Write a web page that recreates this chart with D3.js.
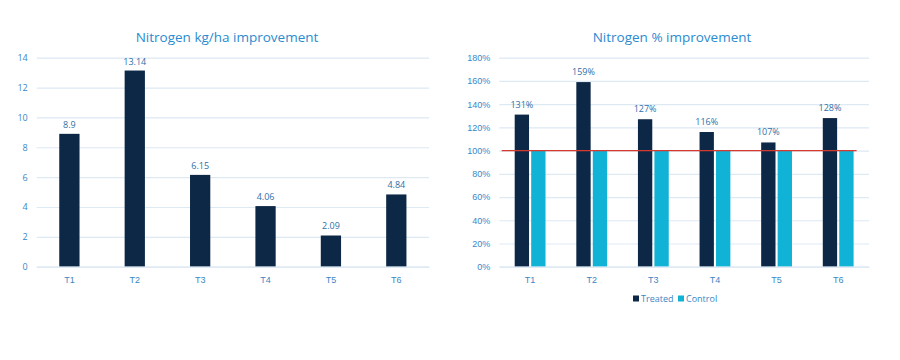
<!DOCTYPE html>
<html><head><meta charset="utf-8">
<script src="https://cdn.jsdelivr.net/npm/d3@7"></script>
<style>
html,body{margin:0;padding:0;background:#fff;}
svg{display:block;font-family:"Open Sans","Noto Sans",sans-serif;}
</style></head>
<body><svg id="c" width="900" height="360"></svg>
<script>
const categories = ["T1","T2","T3","T4","T5","T6"];
const kgImprovement = [8.9, 13.14, 6.15, 4.06, 2.09, 4.84];
const kgLabels = ["8.9","13.14","6.15","4.06","2.09","4.84"];
const kgTicks = [0,2,4,6,8,10,12,14];
const treatedPct = [1.31, 1.59, 1.27, 1.16, 1.07, 1.28];
const controlPct = [1.00, 1.00, 1.00, 1.00, 1.00, 1.00];
const pctTicks = [0,0.2,0.4,0.6,0.8,1.0,1.2,1.4,1.6,1.8];
const seriesNames = ["Treated","Control"];
const baseline = 1.0;

const navy = "#0c2846", cyan = "#10b2d6", textBlue = "#3a86c6", titleBlue = "#2b8bd0", grid = "#dde9f3", red = "#d63a2f";
const svg = d3.select("#c");

// ---- Left chart ----
{
  const x = d3.scaleBand().domain(categories).range([36.7, 429]).paddingInner(0.69).paddingOuter(0.345);
  const y = d3.scaleLinear().domain([0,14]).range([266.7, 57.7]);
  const g = svg.append("g");
  g.append("text").attr("x", 227).attr("y", 42).attr("text-anchor","middle")
    .attr("font-size", 13.5).attr("fill", titleBlue).text("Nitrogen kg/ha improvement");
  const ya = g.append("g").attr("transform","translate(36.7,0)")
    .call(d3.axisLeft(y).tickValues(kgTicks).tickSize(-(429-36.7)).tickPadding(9).tickFormat(d3.format("d")));
  ya.select(".domain").remove();
  ya.selectAll("line").attr("stroke", grid).attr("stroke-width",1.2);
  ya.selectAll("text").attr("fill", textBlue).attr("font-size", 9).attr("font-family","'Open Sans',sans-serif");
  g.selectAll("rect.b").data(categories).join("rect")
    .attr("x", d => x(d)).attr("width", x.bandwidth())
    .attr("y", (d,i) => y(kgImprovement[i])).attr("height", (d,i) => y(0)-y(kgImprovement[i]))
    .attr("fill", navy);
  g.selectAll("text.v").data(categories).join("text")
    .attr("x", d => x(d)+x.bandwidth()/2).attr("y", (d,i) => y(kgImprovement[i]) - 6)
    .attr("text-anchor","middle").attr("font-size", 9).attr("fill", "#2f6fa8").text((d,i)=>kgLabels[i]);
  const xa = g.append("g").attr("transform","translate(0,266.7)").call(d3.axisBottom(x).tickSize(0).tickPadding(10));
  xa.select(".domain").attr("stroke", grid).attr("stroke-width",1.2);
  xa.selectAll("text").attr("fill", textBlue).attr("font-size", 9);
}

// ---- Right chart ----
{
  const x = d3.scaleBand().domain(categories).range([499.3, 869]).paddingInner(0.5).paddingOuter(0.25);
  const xs = d3.scaleBand().domain(seriesNames).range([0, x.bandwidth()]).paddingInner(0.13);
  const y = d3.scaleLinear().domain([0,1.8]).range([266.7, 57.7]);
  const g = svg.append("g");
  g.append("text").attr("x", 672).attr("y", 42).attr("text-anchor","middle")
    .attr("font-size", 13.5).attr("fill", titleBlue).text("Nitrogen % improvement");
  const ya = g.append("g").attr("transform","translate(499.3,0)")
    .call(d3.axisLeft(y).tickValues(pctTicks).tickSize(-(869-499.3)).tickPadding(9).tickFormat(d3.format(".0%")));
  ya.select(".domain").remove();
  ya.selectAll("line").attr("stroke", grid).attr("stroke-width",1.2);
  ya.selectAll("text").attr("fill", textBlue).attr("font-size", 9);
  const data = [treatedPct, controlPct];
  const colors = [navy, cyan];
  seriesNames.forEach((s, si) => {
    g.selectAll("rect.s"+si).data(categories).join("rect")
      .attr("x", d => x(d)+xs(s)).attr("width", xs.bandwidth())
      .attr("y", (d,i) => y(data[si][i])).attr("height", (d,i) => y(0)-y(data[si][i]))
      .attr("fill", colors[si]);
  });
  g.selectAll("text.v").data(categories).join("text")
    .attr("x", d => x(d)+xs("Treated")+xs.bandwidth()/2).attr("y", (d,i) => y(treatedPct[i]) - 7)
    .attr("text-anchor","middle").attr("font-size", 9).attr("fill", "#2f6fa8")
    .text((d,i)=>d3.format(".0%")(treatedPct[i]));
  const xa = g.append("g").attr("transform","translate(0,266.7)").call(d3.axisBottom(x).tickSize(0).tickPadding(10));
  xa.select(".domain").attr("stroke", grid).attr("stroke-width",1.2);
  xa.selectAll("text").attr("fill", textBlue).attr("font-size", 9);
  // baseline red line
  g.append("line").attr("x1", 501.7).attr("x2", x("T6")+x.bandwidth()+3)
    .attr("y1", y(baseline)).attr("y2", y(baseline)).attr("stroke", red).attr("stroke-width", 1.3);
  // legend
  const lg = g.append("g").attr("transform","translate(633,299)");
  let lx = 0;
  seriesNames.forEach((s, si) => {
    lg.append("rect").attr("x", lx).attr("y", -3.5).attr("width", 6).attr("height", 6).attr("fill", colors[si]);
    const t = lg.append("text").attr("x", lx+8).attr("y", 3).attr("font-size", 9).attr("fill", textBlue).text(s);
    lx += 45;
  });
}
</script></body></html>
